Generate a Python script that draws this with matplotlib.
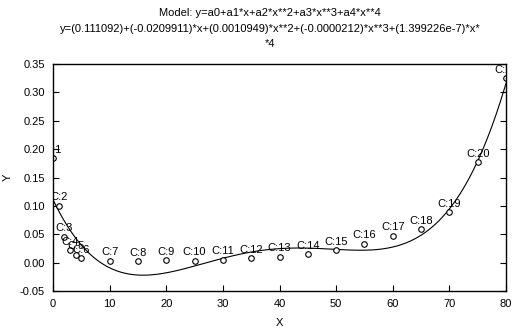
import numpy as np
import matplotlib
matplotlib.use("Agg")
import matplotlib.pyplot as plt

plt.rcParams["font.family"] = ["Liberation Sans", "DejaVu Sans"]

# observed cases
x_obs = [0, 1, 2, 3, 4, 5, 10, 15, 20, 25, 30, 35, 40, 45, 50, 55, 60, 65, 70, 75, 80]
y_obs = [0.184, 0.100, 0.046, 0.022, 0.014, 0.008, 0.003, 0.002, 0.004, 0.003,
         0.005, 0.0075, 0.010, 0.015, 0.022, 0.033, 0.047, 0.059, 0.0886, 0.177, 0.325]
case_labels = ["C:%d" % (i + 1) for i in range(len(x_obs))]

# fitted model coefficients (from the title)
coefs = [0.111092, -0.0209911, 0.0010949, -0.0000212, 1.399226e-7]

title1 = "Model: y=a0+a1*x+a2*x**2+a3*x**3+a4*x**4"
title2 = "y=(0.111092)+(-0.0209911)*x+(0.0010949)*x**2+(-0.0000212)*x**3+(1.399226e-7)*x*"
title3 = "*4"

fig = plt.figure(figsize=(5.15, 3.28), dpi=100)
ax = fig.add_axes([53 / 515, 1 - 291 / 328, 453 / 515, 227 / 328])

xs = np.linspace(0, 80, 400)
ys = sum(c * xs ** i for i, c in enumerate(coefs))
ax.plot(xs, ys, color="black", lw=0.8)

ax.plot(x_obs, y_obs, "o", mfc="white", mec="black", ms=4, mew=0.8)

for xv, yv, lab in zip(x_obs, y_obs, case_labels):
    ax.annotate(lab, (xv, yv), textcoords="offset points", xytext=(0, 2.5),
                ha="center", va="bottom", fontsize=8, clip_on=True)

ax.set_xlim(0, 80)
ax.set_ylim(-0.05, 0.35)
ax.set_xticks(range(0, 81, 10))
ax.set_yticks(np.arange(-0.05, 0.351, 0.05))
ax.set_yticklabels(["%.2f" % v for v in np.arange(-0.05, 0.351, 0.05)])
ax.tick_params(direction="in", length=4, labelsize=8, right=True, top=False,
               width=0.8)
ax.tick_params(axis="x", pad=6)
ax.tick_params(axis="y", pad=6)
for s in ax.spines.values():
    s.set_linewidth(1.0)

ax.set_xlabel("X", fontsize=8, labelpad=6)
ax.set_ylabel("Y", fontsize=8)
ax.yaxis.set_label_coords(-0.088, 0.5)

fig.text(270 / 515, 1 - 13 / 328, title1, ha="center", va="center", fontsize=8)
fig.text(270 / 515, 1 - 29 / 328, title2, ha="center", va="center", fontsize=8)
fig.text(270 / 515, 1 - 44 / 328, title3, ha="center", va="center", fontsize=8)

fig.savefig("out.png", dpi=100, facecolor="white")
